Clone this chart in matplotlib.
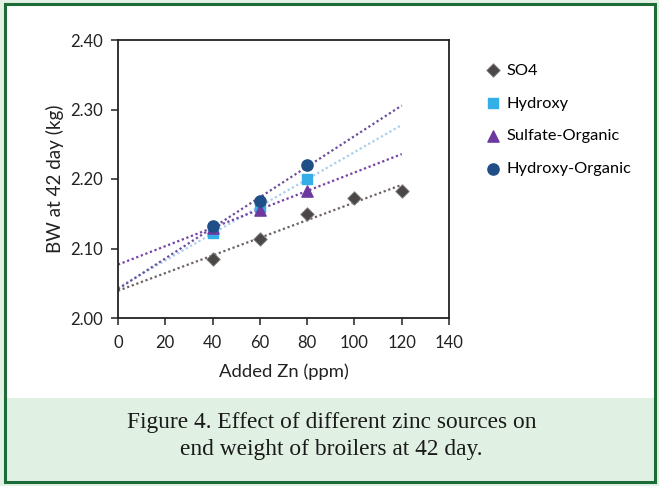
import matplotlib
matplotlib.use('Agg')
import matplotlib.pyplot as plt
import matplotlib.patches as patches
import numpy as np

# data
zn_so4 = [40, 60, 80, 100, 120]
bw_so4 = [2.085, 2.114, 2.150, 2.172, 2.183]
zn_org = [40, 60, 80]
bw_hydroxy = [2.122, 2.160, 2.200]
bw_sulf_org = [2.130, 2.156, 2.183]
bw_hyd_org = [2.132, 2.169, 2.220]

series_names = ['SO4', 'Hydroxy', 'Sulfate-Organic', 'Hydroxy-Organic']
x_ticks = [0, 20, 40, 60, 80, 100, 120, 140]
y_ticks = [2.00, 2.10, 2.20, 2.30, 2.40]

plt.rcParams['font.family'] = ['Lato', 'DejaVu Sans']

fig = plt.figure(figsize=(6.59, 4.86), dpi=100)

# frame and caption band
fig.patches.append(patches.Rectangle((0, 0), 1, 1, transform=fig.transFigure,
                                     facecolor='#e3f1e4', edgecolor='none', zorder=-3))
fig.patches.append(patches.Rectangle((5/659, 6/486), 649/659, 474/486, transform=fig.transFigure,
                                     facecolor='white', edgecolor='none', zorder=-2))
fig.patches.append(patches.Rectangle((5/659, 6/486), 649/659, 82/486, transform=fig.transFigure,
                                     facecolor='#e0f0e2', edgecolor='none', zorder=-1))
fig.patches.append(patches.Rectangle((4.5/659, 4.5/486), 650/659, 477/486, transform=fig.transFigure,
                                     facecolor='none', edgecolor='#1d6b36', lw=2.2, zorder=5))

ax = fig.add_axes([118/659, 1 - 318/486, 331/659, 278/486])

# trend lines from x=0 to x=120
xt = np.array([0, 120])
def trend(x, y, color):
    k, b = np.polyfit(x, y, 1)
    ax.plot(xt, k * xt + b, linestyle=(0, (1, 1.2)), color=color, lw=1.6, zorder=2)

trend(zn_so4, bw_so4, '#6e6262')
trend(zn_org, bw_hydroxy, '#a9cfee')
trend(zn_org, bw_sulf_org, '#7440a8')
trend(zn_org, bw_hyd_org, '#6a4d9a')

ax.scatter(zn_so4, bw_so4, marker='D', s=48, color='#4b4747', edgecolor='#8a8a8a', lw=0.6, zorder=3, label=series_names[0])
ax.scatter(zn_org, bw_hydroxy, marker='s', s=55, color='#33aee6', zorder=3, label=series_names[1])
ax.scatter(zn_org, bw_sulf_org, marker='^', s=65, color='#6c3a9e', zorder=3, label=series_names[2])
ax.scatter(zn_org, bw_hyd_org, marker='o', s=65, color='#1f4f86', zorder=4, label=series_names[3])

ax.set_xlim(0, 140)
ax.set_ylim(2.0, 2.4)
ax.set_xticks(x_ticks)
ax.set_yticks(y_ticks)
ax.set_yticklabels(['%.2f' % v for v in y_ticks])
ax.tick_params(direction='out', length=5, width=1.1, labelsize=12, colors='#222222')
ax.tick_params(axis='x', pad=7)
ax.tick_params(axis='y', pad=6)
for s in ax.spines.values():
    s.set_linewidth(1.3)
    s.set_color('#222222')
ax.set_xlabel('Added Zn (ppm)', fontsize=13.3, color='#222222', labelpad=9)
ax.set_ylabel('BW at 42 day (kg)', fontsize=13.6, color='#222222', labelpad=4)

ax.legend(loc='upper left', bbox_to_anchor=(1.09, 0.94), frameon=False, fontsize=11.8,
          handletextpad=0.4, labelspacing=1.12, handlelength=0.9, borderaxespad=0)

fig.text(0.503, 1 - 428/486, 'Figure 4. Effect of different zinc sources on',
         ha='center', va='baseline', fontsize=16.8, family='Liberation Serif', color='#1a1a1a')
fig.text(0.503, 1 - 455/486, 'end weight of broilers at 42 day.',
         ha='center', va='baseline', fontsize=16.8, family='Liberation Serif', color='#1a1a1a')

fig.savefig('out.png', dpi=100)
